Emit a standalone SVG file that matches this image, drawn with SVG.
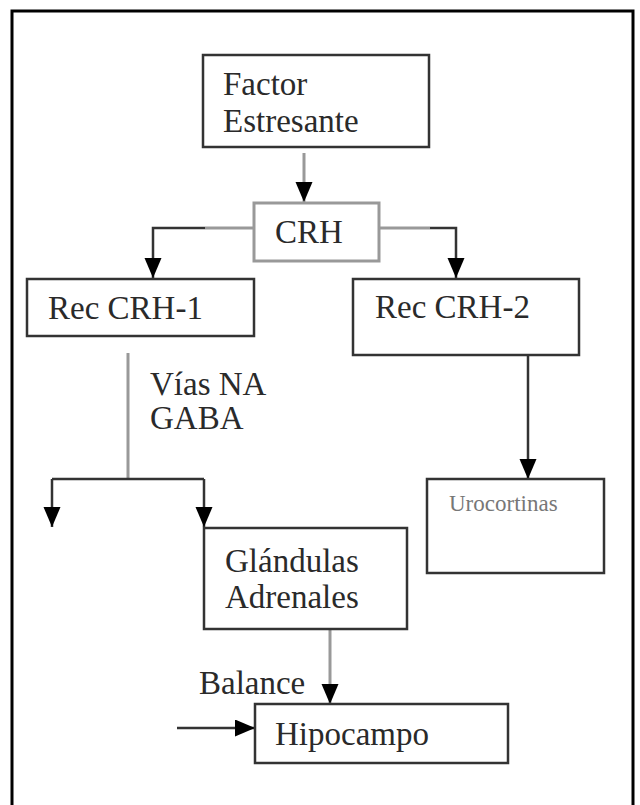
<svg xmlns="http://www.w3.org/2000/svg" width="640" height="805" viewBox="0 0 640 805">
<style>
.box{fill:#fff;stroke:#333;stroke-width:2.5}
.gbox{fill:#fff;stroke:#999;stroke-width:3}
.t{font-family:'Liberation Serif',serif;font-size:33px;fill:#2a2a2a}
.ts{font-family:'Liberation Serif',serif;font-size:23px;fill:#777}
.dl{fill:none;stroke:#333;stroke-width:2.5}
.gl{fill:none;stroke:#999;stroke-width:3}
</style>
<defs>
<marker id="ah" markerUnits="userSpaceOnUse" markerWidth="21" markerHeight="18" refX="20" refY="8.5" orient="auto" viewBox="0 0 21 18">
<path d="M0,0 L20,8.5 L0,17 z" fill="#000"/>
</marker>
</defs>
<rect x="12" y="11" width="621" height="810" fill="#fff" stroke="#000" stroke-width="3"/>
<g id="connectors">
<path class="gl" d="M304,153 V202" marker-end="url(#ah)"/>
<path class="gl" d="M253,228 H205"/>
<path class="dl" d="M205,228 H153 V278" marker-end="url(#ah)"/>
<path class="gl" d="M379,228 H430"/>
<path class="dl" d="M430,228 H456 V278" marker-end="url(#ah)"/>
<path class="gl" d="M128,353 V479"/>
<path class="dl" d="M52,479 H204"/>
<path class="dl" d="M52,479 V527" marker-end="url(#ah)"/>
<path class="dl" d="M204,479 V527" marker-end="url(#ah)"/>
<path class="dl" d="M528,355 V479" marker-end="url(#ah)"/>
<path class="gl" d="M330,630 V704" marker-end="url(#ah)"/>
<path class="dl" d="M177,728 H255" marker-end="url(#ah)"/>
</g>
<g id="factor">
<rect class="box" x="203" y="55" width="226" height="92"/>
<text class="t" x="223" y="95">Factor</text>
<text class="t" x="223" y="132">Estresante</text>
</g>
<g id="crh">
<rect class="gbox" x="254" y="203" width="125" height="58"/>
<text class="t" x="275" y="243">CRH</text>
</g>
<g id="rec1">
<rect class="box" x="27" y="279" width="227" height="57"/>
<text class="t" x="48" y="319">Rec CRH-1</text>
</g>
<g id="rec2">
<rect class="box" x="353" y="279" width="226" height="76"/>
<text class="t" x="375" y="318">Rec CRH-2</text>
</g>
<g id="vias">
<text class="t" x="150" y="395">Vías NA</text>
<text class="t" x="150" y="429">GABA</text>
</g>
<g id="urocortinas">
<rect class="box" x="427" y="479" width="177" height="94"/>
<text class="ts" x="449" y="511">Urocortinas</text>
</g>
<g id="glandulas">
<rect class="box" x="204" y="528" width="203" height="101"/>
<text class="t" x="225" y="572">Glándulas</text>
<text class="t" x="225" y="608">Adrenales</text>
</g>
<g id="balance">
<text class="t" x="199" y="694">Balance</text>
</g>
<g id="hipocampo">
<rect class="box" x="255" y="704" width="253" height="59"/>
<text class="t" x="275" y="745">Hipocampo</text>
</g>
</svg>
